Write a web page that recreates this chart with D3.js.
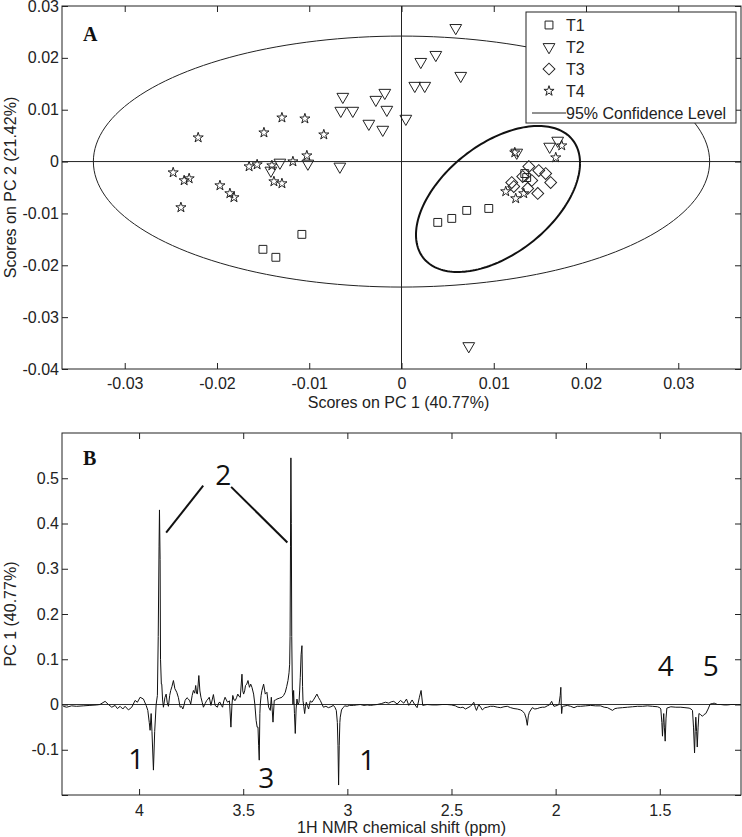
<!DOCTYPE html>
<html><head><meta charset="utf-8">
<script src="https://cdn.jsdelivr.net/npm/d3@7"></script>
<style>body{margin:0;background:#fff}svg{display:block}</style>
</head><body><svg id="c" width="742" height="837"></svg>
<script>
// ---------- Panel A data ----------
const groups = ["T1","T2","T3","T4"];
const t1 = [[-0.01502,-0.01692],[-0.01362,-0.01846],[-0.0108,-0.01404],[0.00393,-0.01173],[0.00545,-0.01096],[0.00707,-0.00942],[0.00946,-0.00904],[0.01336,-0.00231],[0.01357,-0.00308]];
const t2 = [[0.00588,0.02577],[0.00209,0.01923],[0.00372,0.02058],[0.00642,0.01654],[0.00144,0.01462],[0.00252,0.01462],[0.00047,0.00827],[-0.00181,0.01327],[-0.00278,0.01192],[-0.00159,0.0100],[-0.00203,0.00615],[-0.00354,0.00731],[-0.00636,0.0125],[-0.00658,0.00981],[-0.00528,0.00981],[-0.01318,-0.00019],[-0.01416,-0.00173],[-0.01015,-0.00038],[-0.00668,-0.00096],[0.01249,0.00173],[0.01606,0.00288],[0.01693,0.00404],[0.00729,-0.03558]];
const t3 = [[0.0138,-0.00096],[0.01488,-0.00173],[0.01563,-0.00231],[0.01617,-0.00404],[0.01412,-0.00365],[0.01195,-0.00404],[0.01217,-0.00481],[0.01477,-0.00615],[0.01368,-0.00519],[0.01314,-0.00288]];
const t4 = [[-0.02204,0.00462],[-0.02475,-0.00212],[-0.02356,-0.00365],[-0.02302,-0.00327],[-0.02391,-0.00885],[-0.01968,-0.00462],[-0.0186,-0.00615],[-0.01816,-0.00692],[-0.01491,0.00558],[-0.01296,0.00846],[-0.01047,0.00827],[-0.00842,0.00519],[-0.01652,-0.00096],[-0.01565,-0.00058],[-0.01405,-0.00077],[-0.01383,-0.00385],[-0.01296,-0.00423],[-0.01177,0.0],[-0.01026,0.00115],[0.01228,0.00173],[0.01737,0.00308],[0.01672,0.00077],[0.0113,-0.00577],[0.01238,-0.00712],[0.01325,-0.00615]];
// ellipses: [cx, cy, sx, sy, rho]
const ellipse95 = [0, 0, 0.0334, 0.0242, 0];
const ellipseGroup = [0.01046, -0.00721, 0.00889, 0.01408, 0.491];
const aXTicks = [-0.03,-0.02,-0.01,0,0.01,0.02,0.03];
const aXTickLabels = ["-0.03","-0.02","-0.01","0","0.01","0.02","0.03"];
const aYTicks = [-0.04,-0.03,-0.02,-0.01,0,0.01,0.02,0.03];
const aYTickLabels = ["-0.04","-0.03","-0.02","-0.01","0","0.01","0.02","0.03"];
const legendLabels = ["T1","T2","T3","T4","95% Confidence Level"];

// ---------- Panel B data ----------
const spectrum = [[4.364,-0.004],[4.348,-0.006],[4.324,-0.003],[4.300,-0.004],[4.268,-0.003],[4.236,-0.002],[4.203,-0.001],[4.188,0.000],[4.163,0.007],[4.147,0.000],[4.131,-0.006],[4.115,-0.002],[4.104,-0.009],[4.091,-0.004],[4.078,-0.010],[4.067,-0.004],[4.051,-0.012],[4.035,-0.006],[4.019,0.009],[4.008,0.005],[3.995,0.016],[3.979,0.012],[3.966,-0.002],[3.958,-0.013],[3.951,-0.04],[3.947,-0.057],[3.942,-0.02],[3.938,-0.06],[3.931,-0.145],[3.925,-0.06],[3.918,0.0],[3.912,0.02],[3.908,0.15],[3.904,0.35],[3.902,0.43],[3.899,0.32],[3.897,0.10],[3.893,0.045],[3.891,0.045],[3.887,0.01],[3.883,-0.006],[3.876,0.015],[3.870,0.023],[3.865,0.005],[3.859,-0.004],[3.853,0.02],[3.848,0.031],[3.842,0.04],[3.835,0.053],[3.828,0.035],[3.819,0.027],[3.811,0.015],[3.803,-0.006],[3.796,-0.004],[3.790,-0.010],[3.785,-0.003],[3.779,0.009],[3.770,0.015],[3.763,0.012],[3.757,0.008],[3.752,0.001],[3.745,0.02],[3.739,0.031],[3.733,0.025],[3.728,0.042],[3.724,0.025],[3.720,0.023],[3.713,0.064],[3.708,0.03],[3.703,0.016],[3.697,0.005],[3.691,-0.006],[3.683,0.002],[3.675,0.009],[3.669,0.012],[3.663,0.016],[3.655,-0.002],[3.649,0.01],[3.643,0.022],[3.635,-0.002],[3.624,-0.006],[3.617,0.004],[3.611,0.005],[3.605,-0.002],[3.599,-0.006],[3.593,0.008],[3.587,0.016],[3.581,0.01],[3.575,0.005],[3.566,0.008],[3.559,-0.050],[3.554,0.0],[3.550,0.020],[3.544,0.01],[3.538,0.009],[3.532,0.015],[3.526,0.023],[3.520,0.018],[3.514,0.016],[3.506,0.067],[3.502,0.03],[3.498,0.023],[3.493,0.03],[3.489,0.042],[3.483,0.045],[3.477,0.053],[3.470,0.038],[3.464,0.045],[3.458,0.038],[3.450,0.023],[3.444,0.0],[3.438,-0.035],[3.433,-0.05],[3.429,-0.05],[3.426,-0.09],[3.423,-0.123],[3.420,-0.02],[3.418,0.001],[3.414,0.02],[3.410,0.031],[3.402,0.045],[3.394,0.023],[3.386,0.027],[3.378,-0.006],[3.370,-0.013],[3.365,0.016],[3.361,-0.01],[3.357,-0.039],[3.351,0.009],[3.345,0.01],[3.338,0.012],[3.326,0.014],[3.314,0.016],[3.306,0.02],[3.298,0.027],[3.291,0.04],[3.285,0.053],[3.280,0.07],[3.277,0.089],[3.275,0.15],[3.273,0.35],[3.271,0.545],[3.269,0.40],[3.267,0.15],[3.264,0.03],[3.261,0.0],[3.258,0.031],[3.254,-0.02],[3.250,-0.064],[3.246,-0.01],[3.242,0.012],[3.237,0.0],[3.232,0.005],[3.229,0.03],[3.226,0.06],[3.222,0.11],[3.218,0.13],[3.215,0.04],[3.213,0.009],[3.209,-0.005],[3.205,-0.02],[3.201,-0.004],[3.197,0.005],[3.192,-0.002],[3.186,-0.01],[3.178,0.008],[3.170,0.005],[3.160,0.012],[3.146,0.023],[3.138,0.015],[3.130,0.009],[3.115,-0.006],[3.103,-0.004],[3.091,-0.007],[3.079,-0.005],[3.067,-0.002],[3.060,-0.006],[3.053,-0.013],[3.048,-0.04],[3.045,-0.09],[3.042,-0.178],[3.039,-0.09],[3.036,-0.04],[3.034,-0.028],[3.028,-0.012],[3.021,-0.007],[3.012,-0.003],[3.001,-0.004],[2.990,-0.002],[2.971,-0.002],[2.955,-0.001],[2.938,0.0],[2.920,-0.002],[2.905,-0.001],[2.889,-0.002],[2.873,-0.001],[2.857,0.0],[2.837,0.002],[2.817,0.005],[2.801,0.003],[2.789,0.006],[2.777,0.007],[2.761,0.001],[2.745,0.009],[2.729,0.003],[2.716,0.012],[2.705,-0.002],[2.689,0.010],[2.678,0.001],[2.665,-0.007],[2.654,0.016],[2.646,0.031],[2.638,-0.002],[2.617,0.0],[2.593,-0.001],[2.569,-0.001],[2.545,0.0],[2.521,0.0],[2.500,-0.001],[2.481,-0.003],[2.469,-0.006],[2.457,-0.007],[2.445,-0.006],[2.433,-0.010],[2.421,-0.007],[2.409,-0.004],[2.401,0.0],[2.393,0.005],[2.386,-0.006],[2.380,-0.013],[2.369,0.0],[2.360,-0.006],[2.352,-0.012],[2.340,-0.007],[2.328,-0.006],[2.313,-0.004],[2.297,-0.004],[2.280,-0.006],[2.264,-0.007],[2.248,-0.005],[2.232,-0.004],[2.216,-0.007],[2.200,-0.009],[2.184,-0.010],[2.168,-0.012],[2.158,-0.015],[2.149,-0.02],[2.142,-0.03],[2.136,-0.046],[2.131,-0.025],[2.126,-0.017],[2.112,-0.007],[2.100,-0.01],[2.088,-0.009],[2.076,-0.007],[2.064,-0.006],[2.052,-0.006],[2.040,-0.003],[2.030,-0.001],[2.019,0.007],[2.013,0.0],[2.008,-0.004],[1.999,-0.003],[1.992,-0.002],[1.984,0.0],[1.978,0.02],[1.975,0.038],[1.973,0.0],[1.971,-0.02],[1.968,-0.005],[1.963,-0.004],[1.944,-0.002],[1.928,-0.004],[1.912,-0.007],[1.896,-0.004],[1.880,-0.004],[1.856,-0.003],[1.832,-0.002],[1.808,-0.003],[1.784,-0.003],[1.767,-0.006],[1.751,-0.007],[1.739,-0.01],[1.727,-0.013],[1.715,-0.009],[1.703,-0.008],[1.679,-0.007],[1.655,-0.006],[1.631,-0.005],[1.607,-0.004],[1.583,-0.004],[1.559,-0.003],[1.535,-0.004],[1.511,-0.005],[1.500,-0.007],[1.495,-0.01],[1.490,-0.04],[1.487,-0.07],[1.484,-0.04],[1.481,-0.02],[1.478,-0.05],[1.474,-0.081],[1.470,-0.03],[1.466,-0.008],[1.447,-0.005],[1.423,-0.006],[1.399,-0.006],[1.379,-0.007],[1.359,-0.008],[1.350,-0.01],[1.343,-0.013],[1.338,-0.05],[1.333,-0.107],[1.330,-0.06],[1.327,-0.028],[1.323,-0.06],[1.320,-0.094],[1.316,-0.05],[1.312,-0.020],[1.305,-0.022],[1.295,-0.026],[1.287,-0.022],[1.279,-0.02],[1.268,-0.01],[1.258,0.001],[1.248,0.002],[1.239,0.003],[1.223,0.0],[1.207,0.0],[1.191,-0.001],[1.175,-0.001],[1.159,0.0],[1.143,0.0],[1.127,0.0],[1.111,0.0]];
const bXTicks = [4,3.5,3,2.5,2,1.5];
const bXTickLabels = ["4","3.5","3","2.5","2","1.5"];
const bYTicks = [-0.2,-0.1,0,0.1,0.2,0.3,0.4,0.5];
const bYTickLabels = ["","-0.1","0","0.1","0.2","0.3","0.4","0.5"];
// peak annotations [label, ppm, value]
const peakLabels = [["2",3.596,0.508],["1",4.014,-0.121],["3",3.389,-0.163],["1",2.904,-0.123],["4",1.471,0.086],["5",1.255,0.086]];
// leader lines for label "2": [ppm1, v1, ppm2, v2]
const leaderLines = [[3.870,0.380,3.692,0.4835],[3.558,0.481,3.288,0.358]];

// ---------- Drawing ----------
const svg = d3.select("#c");
const FONT = "'Liberation Sans', Arial, sans-serif";
const TXT = "#222";

function frameAxes(g, x, y, xt, xl, yt, yl, L, R, T, B, xPad) {
  const bottom = g.append("g").attr("transform", `translate(0,${B})`)
    .call(d3.axisBottom(x).tickValues(xt).tickFormat((d,i)=>xl[i]).tickSize(-6).tickPadding(xPad));
  const top = g.append("g").attr("transform", `translate(0,${T})`)
    .call(d3.axisTop(x).tickValues(xt).tickFormat("").tickSize(-6));
  const left = g.append("g").attr("transform", `translate(${L},0)`)
    .call(d3.axisLeft(y).tickValues(yt).tickFormat((d,i)=>yl[i]).tickSize(-6).tickPadding(3));
  const right = g.append("g").attr("transform", `translate(${R},0)`)
    .call(d3.axisRight(y).tickValues(yt).tickFormat("").tickSize(-6));
  [bottom, top, left, right].forEach(a => {
    a.select(".domain").remove();
    a.selectAll(".tick line").attr("stroke", "#222").attr("stroke-width", 1);
    a.selectAll("text").attr("font-family", FONT).attr("font-size", 16).attr("fill", TXT);
  });
  g.append("rect").attr("x", L).attr("y", T).attr("width", R - L).attr("height", B - T)
    .attr("fill", "none").attr("stroke", "#222").attr("stroke-width", 1);
}

// Panel A
const A = {L:62, R:741, T:6, B:369};
const xa = d3.scaleLinear([-0.0368, 0.0368], [A.L, A.R]);
const ya = d3.scaleLinear([-0.04, 0.03], [A.B, A.T]);
const gA = svg.append("g");
gA.append("defs").append("clipPath").attr("id","clipA").append("rect")
  .attr("x",A.L).attr("y",A.T).attr("width",A.R-A.L).attr("height",A.B-A.T);
const pA = gA.append("g").attr("clip-path","url(#clipA)");
pA.append("line").attr("x1",A.L).attr("x2",A.R).attr("y1",ya(0)).attr("y2",ya(0)).attr("stroke","#222").attr("stroke-width",1);
pA.append("line").attr("x1",xa(0)).attr("x2",xa(0)).attr("y1",A.T).attr("y2",A.B).attr("stroke","#222").attr("stroke-width",1);

function ellipsePoints(e) {
  const [cx, cy, sx, sy, rho] = e;
  return d3.range(0, 361, 2).map(a => {
    const t = a * Math.PI / 180;
    return [cx + sx * Math.cos(t), cy + sy * (rho * Math.cos(t) + Math.sqrt(1 - rho*rho) * Math.sin(t))];
  });
}
const lineA = d3.line().x(d => xa(d[0])).y(d => ya(d[1]));
pA.append("path").attr("d", lineA(ellipsePoints(ellipse95))).attr("fill","none").attr("stroke","#222").attr("stroke-width",1);
pA.append("path").attr("d", lineA(ellipsePoints(ellipseGroup))).attr("fill","none").attr("stroke","#111").attr("stroke-width",2);

const symSquare = d3.symbol(d3.symbolSquare, 62)();
const symTri = d3.symbol(d3.symbolTriangle, 60)();
const symDiamond = d3.symbol(d3.symbolSquare, 70)();
const symStar = d3.symbol(d3.symbolStar, 32)();
const markers = [
  {data:t1, path:symSquare, rot:0},
  {data:t2, path:symTri, rot:180},
  {data:t3, path:symDiamond, rot:45},
  {data:t4, path:symStar, rot:0}
];
markers.forEach(m => {
  pA.append("g").selectAll("path").data(m.data).join("path")
    .attr("d", m.path)
    .attr("transform", d => `translate(${xa(d[0])},${ya(d[1])}) rotate(${m.rot})`)
    .attr("fill", "none").attr("stroke", "#222").attr("stroke-width", 1);
});

frameAxes(gA, xa, ya, aXTicks, aXTickLabels, aYTicks, aYTickLabels, A.L, A.R, A.T, A.B, 9);

// legend
const lg = gA.append("g");
lg.append("rect").attr("x",526).attr("y",12).attr("width",210).attr("height",111)
  .attr("fill","#fff").attr("stroke","#222").attr("stroke-width",1);
const legY = [25, 47, 69, 91, 113];
markers.forEach((m, i) => {
  lg.append("path").attr("d", m.path).attr("transform", `translate(549,${legY[i]}) rotate(${m.rot})`)
    .attr("fill","none").attr("stroke","#222").attr("stroke-width",1);
});
lg.append("line").attr("x1",532).attr("x2",566).attr("y1",legY[4]).attr("y2",legY[4]).attr("stroke","#222").attr("stroke-width",1);
lg.selectAll("text").data(legendLabels).join("text")
  .attr("x", 566).attr("y", (d,i) => legY[i] + 6)
  .attr("font-family", FONT).attr("font-size", 16).attr("fill", TXT).text(d => d);

gA.append("text").attr("x",83).attr("y",41).attr("font-family","'Liberation Serif', 'Times New Roman', serif")
  .attr("font-weight","bold").attr("font-size",20).attr("fill","#111").text("A");
gA.append("text").attr("x",(A.L+A.R)/2 - 3).attr("y",408).attr("text-anchor","middle")
  .attr("font-family",FONT).attr("font-size",16).attr("fill",TXT).text("Scores on PC 1 (40.77%)");
gA.append("text").attr("transform",`translate(16,${(A.T+A.B)/2}) rotate(-90)`).attr("text-anchor","middle")
  .attr("font-family",FONT).attr("font-size",16).attr("fill",TXT).text("Scores on PC 2 (21.42%)");

// Panel B
const Bp = {L:62, R:741, T:433, B:795};
const xb = d3.scaleLinear([4.37, 1.11], [Bp.L, Bp.R]);
const yb = d3.scaleLinear([-0.2, 0.6], [Bp.B, Bp.T]);
const gB = svg.append("g");
gB.append("defs").append("clipPath").attr("id","clipB").append("rect")
  .attr("x",Bp.L).attr("y",Bp.T).attr("width",Bp.R-Bp.L).attr("height",Bp.B-Bp.T);
const pB = gB.append("g").attr("clip-path","url(#clipB)");
pB.append("line").attr("x1",Bp.L).attr("x2",Bp.R).attr("y1",yb(0)).attr("y2",yb(0)).attr("stroke","#333").attr("stroke-width",1);
pB.append("path").datum(spectrum)
  .attr("d", d3.line().x(d => xb(d[0])).y(d => yb(d[1])))
  .attr("fill","none").attr("stroke","#111").attr("stroke-width",1);
pB.selectAll("line.leader").data(leaderLines).join("line").attr("class","leader")
  .attr("x1",d=>xb(d[0])).attr("y1",d=>yb(d[1])).attr("x2",d=>xb(d[2])).attr("y2",d=>yb(d[3]))
  .attr("stroke","#111").attr("stroke-width",2);
pB.selectAll("text.peak").data(peakLabels).join("text").attr("class","peak")
  .attr("x",d=>xb(d[1])).attr("y",d=>yb(d[2]) + 10).attr("text-anchor","middle")
  .attr("font-family","'Open Sans', 'Noto Sans', sans-serif").attr("font-size",28).attr("fill","#111").text(d=>d[0]);

frameAxes(gB, xb, yb, bXTicks, bXTickLabels, bYTicks, bYTickLabels, Bp.L, Bp.R, Bp.T, Bp.B, 10);

gB.append("text").attr("x",83).attr("y",465).attr("font-family","'Liberation Serif', 'Times New Roman', serif")
  .attr("font-weight","bold").attr("font-size",20).attr("fill","#111").text("B");
gB.append("text").attr("x",(Bp.L+Bp.R)/2).attr("y",833).attr("text-anchor","middle")
  .attr("font-family",FONT).attr("font-size",16).attr("fill",TXT).text("1H NMR chemical shift (ppm)");
gB.append("text").attr("transform",`translate(16,${(Bp.T+Bp.B)/2}) rotate(-90)`).attr("text-anchor","middle")
  .attr("font-family",FONT).attr("font-size",16).attr("fill",TXT).text("PC 1 (40.77%)");
</script></body></html>
